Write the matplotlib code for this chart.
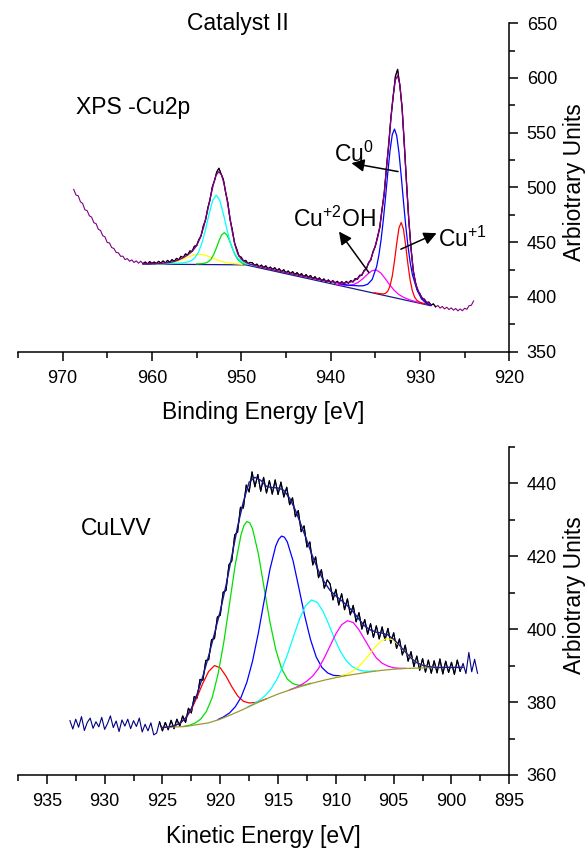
import numpy as np
import matplotlib
matplotlib.use("Agg")
import matplotlib.pyplot as plt
from matplotlib.ticker import MultipleLocator

plt.rcParams['font.family'] = ['Liberation Sans', 'DejaVu Sans']
plt.rcParams['mathtext.fontset'] = 'custom'
plt.rcParams['mathtext.rm'] = 'Liberation Sans'
plt.rcParams['mathtext.it'] = 'Liberation Sans:italic'

# ---------------- XPS Cu2p (binding energy) ----------------
# measured counts, spectrometer step 0.25 eV from 968.75 eV down to 924.0 eV
cu2p_raw_start = 968.75
cu2p_raw_step = -0.25
cu2p_raw = [
    498.2, 493.1, 492.4, 486.9, 485.3, 479.6, 478.8, 474.1, 472.9, 467.8,
    466.9, 461.8, 460.7, 455.9, 454.8, 449.7, 449.3, 445.1, 444.2, 440.6,
    440.3, 437.1, 437.2, 434.1, 435.0, 432.6, 433.8, 431.5, 432.9, 430.8,
    432.6, 430.4, 431.9, 430.2, 432.3, 430.6, 431.9, 430.5, 432.5, 430.9,
    432.9, 431.0, 433.4, 431.6, 434.1, 432.5, 435.2, 434.0, 437.1, 435.9,
    439.3, 438.4, 442.0, 441.6, 446.3, 446.8, 452.4, 455.6, 464.9, 470.1,
    481.2, 488.6, 500.3, 506.0, 514.1, 517.6, 512.2, 507.3, 495.4, 486.1,
    470.4, 461.2, 449.1, 443.6, 437.2, 436.3, 432.7, 433.4, 430.5, 431.5,
    431.2, 428.7, 430.0, 427.5, 429.1, 426.9, 428.4, 425.8, 427.3, 425.1,
    426.7, 424.1, 425.8, 423.0, 424.9, 422.1, 423.7, 421.4, 423.1, 420.5,
    422.2, 419.6, 421.3, 418.4, 420.4, 417.9, 419.6, 416.7, 418.5, 415.9,
    417.4, 414.7, 416.5, 413.8, 415.6, 413.2, 414.9, 412.4, 414.3, 412.1,
    414.0, 411.8, 414.2, 412.5, 415.0, 413.6, 416.8, 416.1, 419.8, 419.7,
    424.3, 425.5, 431.4, 433.7, 441.5, 446.0, 454.9, 463.1, 480.0, 494.3,
    518.4, 538.6, 564.0, 582.7, 601.5, 607.9, 593.0, 573.2, 539.4, 504.1,
    470.0, 444.8, 423.6, 413.4, 405.1, 403.0, 398.1, 398.0, 394.5, 395.3,
    392.4, 393.7, 390.9, 392.2, 389.8, 391.3, 389.1, 390.6, 388.5, 390.0,
    387.9, 389.4, 387.3, 389.0, 387.4, 389.6, 388.7, 392.0, 392.4, 396.3,
]
cu2p_fit_window = (928.25, 961.0)

cu2p_env_E = [961.0, 960.0, 959.0, 958.0, 957.5, 957.0, 956.5, 956.0, 955.5, 955.0,
              954.6, 954.2, 953.8, 953.4, 953.1, 952.8, 952.5, 952.2, 951.9, 951.6,
              951.3, 951.0, 950.7, 950.4, 950.0, 949.5, 949.0, 948.0, 946.0, 944.0,
              942.0, 940.5, 939.5, 939.0, 938.5, 938.0, 937.5, 937.0, 936.5, 936.0,
              935.5, 935.0, 934.75, 934.5, 934.25, 934.0, 933.75, 933.5, 933.25, 933.0,
              932.75, 932.5, 932.25, 932.0, 931.75, 931.5, 931.25, 931.0, 930.75, 930.5,
              930.0, 929.5, 929.0, 928.8]
cu2p_env_I = [430.3, 430.4, 430.6, 431.5, 432.4, 433.9, 435.9, 438.3, 441.6, 446.8,
              453.9, 464.1, 477.8, 493.0, 503.8, 511.6, 514.4, 511.4, 502.5, 489.3,
              473.9, 459.4, 447.6, 439.5, 434.6, 431.7, 429.9, 427.8, 424.0, 420.5,
              417.1, 414.6, 413.4, 412.7, 412.8, 413.2, 414.3, 416.8, 420.6, 426.4,
              434.6, 446.9, 453.7, 464.0, 478.8, 495.2, 517.2, 539.7, 562.8, 583.6,
              598.3, 602.0, 594.2, 572.0, 540.3, 503.0, 471.1, 443.6, 424.7, 412.2,
              401.9, 396.9, 394.2, 393.2]

cu2p_bg_E = [961.0, 949.5, 928.8]
cu2p_bg_I = [430.0, 429.3, 392.0]

# fitted components (peak + background)
cu2p_cyan_E = [960.0, 959.0, 958.0, 957.0, 956.5, 956.0, 955.6, 955.2, 954.8, 954.4,
               954.0, 953.6, 953.2, 952.8, 952.4, 952.0, 951.6, 951.2, 950.8, 950.4,
               950.0, 949.6, 949.2, 948.6]
cu2p_cyan_I = [430.2, 430.3, 430.5, 430.9, 431.2, 431.9, 433.1, 435.7, 440.7, 449.2,
               461.5, 475.8, 488.1, 493.0, 488.1, 475.8, 461.5, 449.2, 440.7, 435.6,
               432.7, 431.3, 430.0, 428.5]

cu2p_green_E = [955.0, 954.3, 954.0, 953.7, 953.4, 953.1, 952.8, 952.5, 952.2, 951.9,
                951.6, 951.3, 951.0, 950.7, 950.4, 950.1, 949.8, 949.5]
cu2p_green_I = [430.1, 430.5, 431.0, 432.2, 434.3, 438.5, 444.4, 451.1, 456.6, 458.7,
                456.6, 451.1, 444.4, 438.5, 434.2, 432.0, 430.4, 429.8]

cu2p_yellow_E = [959.5, 958.9, 958.3, 957.7, 957.1, 956.5, 955.9, 955.3, 954.7, 954.1,
                 953.5, 952.9, 952.3, 951.7, 951.1, 950.5, 949.9]
cu2p_yellow_I = [430.1, 430.2, 430.6, 431.3, 432.6, 434.5, 436.6, 438.3, 439.0, 438.3,
                 436.6, 434.5, 432.6, 431.3, 430.6, 430.2, 429.7]

cu2p_blue_E = [938.85, 937.85, 936.85, 936.35, 935.85, 935.35, 934.85, 934.6, 934.35, 934.1,
               933.85, 933.6, 933.35, 933.1, 932.85, 932.6, 932.35, 932.1, 931.85, 931.6,
               931.35, 931.1, 930.85, 930.35, 929.85, 929.35, 928.85]
cu2p_blue_I = [411.7, 410.6, 410.1, 410.2, 411.6, 415.9, 427.7, 438.1, 452.3, 470.3,
               491.2, 513.4, 533.6, 548.2, 553.3, 547.3, 531.8, 510.7, 487.6, 465.8,
               446.9, 431.8, 420.5, 406.9, 398.5, 394.5, 392.4]

cu2p_red_E = [935.1, 934.6, 934.1, 933.85, 933.6, 933.35, 933.1, 932.85, 932.6, 932.35,
              932.1, 931.85, 931.6, 931.35, 931.1, 930.85, 930.6, 930.35, 930.1, 929.6, 929.1]
cu2p_red_I = [403.8, 403.1, 402.7, 403.3, 405.3, 410.0, 419.0, 432.8, 448.9, 463.0,
              468.0, 462.0, 447.1, 430.1, 415.4, 405.6, 399.9, 396.95, 395.5, 394.1, 393.0]

cu2p_magenta_E = [939.4, 938.9, 938.4, 937.9, 937.4, 936.9, 936.4, 935.9, 935.4, 934.9,
                  934.4, 933.9, 933.4, 932.9, 932.4, 931.9, 931.4, 930.9, 930.4, 929.9]
cu2p_magenta_I = [411.8, 411.1, 410.7, 410.7, 411.4, 413.4, 416.6, 420.5, 423.8, 424.7,
                  422.0, 416.9, 411.2, 406.2, 402.4, 399.9, 398.1, 396.7, 395.6, 394.5]

# peak labels: (text, text position, arrow tail, arrow head)
cu2p_labels = [
    (r'Cu$^{0}$', (939.6, 523.6), (932.45, 514.5), (937.67, 522.2)),
    (r'Cu$^{+2}$OH', (944.2, 464.2), (935.73, 422.4), (939.06, 459.7)),
    (r'Cu$^{+1}$', (928.0, 446.0), (932.14, 443.6), (928.14, 458.2)),
]

# ---------------- CuLVV Auger (kinetic energy) ----------------
# measured counts, 0.25 eV steps from 933.0 eV down to 897.75 eV
culvv_raw_start = 933.0
culvv_raw_step = -0.25
culvv_raw = [
    374.9, 372.6, 375.3, 373.1, 376.0, 372.2, 374.4, 375.6, 372.8, 374.6,
    373.2, 375.8, 372.5, 374.1, 376.2, 373.0, 374.8, 371.9, 375.1, 373.4,
    375.3, 372.7, 374.9, 373.3, 375.6, 371.8, 373.9, 372.1, 374.3, 371.0,
    371.5, 374.6, 372.1, 374.4, 372.4, 375.0, 372.7, 375.3, 373.4, 376.2,
    374.4, 378.3, 377.0, 381.5, 381.1, 386.2, 386.0, 391.4, 391.6, 397.1,
    397.4, 403.3, 403.8, 410.1, 410.6, 417.6, 418.7, 425.8, 426.6, 433.4,
    433.2, 439.5, 437.6, 443.1, 439.0, 442.4, 437.8, 441.6, 437.3, 440.7,
    437.0, 440.9, 436.9, 440.3, 436.2, 438.9, 434.1, 436.0, 430.8, 432.5,
    426.7, 428.3, 422.5, 423.9, 417.6, 419.8, 414.1, 416.3, 411.2, 413.5,
    412.4, 408.0, 410.9, 406.6, 409.7, 405.3, 408.3, 403.9, 406.5, 402.0,
    404.5, 400.0, 402.6, 398.6, 401.5, 397.7, 400.9, 397.3, 400.6, 397.0,
    400.2, 396.1, 399.0, 394.7, 397.3, 392.9, 395.6, 391.2, 393.8, 389.7,
    392.6, 388.7, 391.9, 388.2, 391.5, 387.9, 391.3, 388.0, 391.8, 387.7,
    391.2, 388.1, 390.9, 387.6, 391.5, 388.4, 390.6, 387.8, 393.6, 388.3,
    391.7, 387.9,
]
culvv_fit_window = (899.25, 925.25)

culvv_env_E = [925.0, 924.5, 924.0, 923.5, 923.0, 922.5, 922.0, 921.5, 921.0, 920.5,
               920.0, 919.5, 919.0, 918.5, 918.0, 917.5, 917.0, 916.5, 916.0, 915.5,
               915.0, 914.5, 914.0, 913.5, 913.0, 912.5, 912.0, 911.5, 911.0, 910.5,
               910.0, 909.5, 909.0, 908.5, 908.0, 907.5, 907.0, 906.5, 906.0, 905.5,
               905.0, 904.5, 904.0, 903.5, 903.0, 902.5, 902.0, 901.5, 901.0, 900.0, 899.0]
culvv_env_I = [373.0, 373.15, 373.46, 374.2, 375.6, 378.2, 382.2, 387.1, 392.7, 398.75,
               404.95, 412.0, 420.0, 428.1, 434.9, 440.3, 441.6, 440.8, 439.1, 438.8,
               438.7, 438.05, 435.9, 432.6, 428.5, 424.2, 419.8, 416.0, 412.9, 410.6,
               409.1, 407.8, 406.4, 404.7, 402.7, 400.85, 399.75, 399.15, 398.9, 398.4,
               397.25, 395.55, 393.75, 392.05, 390.8, 390.1, 389.72, 389.56, 389.5, 389.5, 389.5]

culvv_bg_E = [925.0, 923.0, 921.0, 920.0, 919.0, 918.0, 917.0, 916.0, 915.0, 914.0,
              913.0, 912.0, 911.0, 910.0, 909.0, 908.0, 907.0, 906.0, 905.0, 904.0,
              902.0, 900.0, 899.0]
culvv_bg_I = [373.0, 373.3, 374.3, 375.3, 376.6, 378.0, 379.5, 380.9, 382.2, 383.3,
              384.3, 385.2, 386.0, 386.7, 387.3, 387.8, 388.3, 388.7, 389.0, 389.2,
              389.4, 389.5, 389.5]

culvv_red_E = [925.0, 924.5, 924.0, 923.5, 923.0, 922.5, 922.0, 921.5, 921.0, 920.5,
               920.0, 919.5, 919.0, 918.5, 918.0, 917.5, 917.0, 916.5, 916.0]
culvv_red_I = [373.0, 373.15, 373.45, 374.15, 375.5, 377.9, 381.4, 385.2, 388.4, 390.0,
               389.4, 387.1, 384.2, 381.7, 380.2, 379.75, 379.85, 380.3, 380.9]

culvv_green_E = [923.2, 922.7, 922.2, 921.7, 921.2, 920.7, 920.2, 919.7, 919.2, 918.7,
                 918.2, 917.95, 917.7, 917.45, 917.2, 916.7, 916.2, 915.7, 915.2, 914.7,
                 914.2, 913.7, 913.2, 912.7, 912.2]
culvv_green_I = [373.3, 373.6, 374.2, 375.3, 377.4, 381.2, 387.5, 396.25, 406.9, 417.7,
                 425.9, 428.4, 429.5, 429.15, 427.4, 420.6, 411.2, 401.9, 394.4, 389.2,
                 386.3, 385.0, 384.6, 384.65, 385.15]

culvv_blue_E = [920.2, 919.7, 919.2, 918.7, 918.2, 917.7, 917.2, 916.7, 916.2, 915.7,
                915.2, 914.95, 914.7, 914.45, 914.2, 913.7, 913.2, 912.7, 912.2, 911.7,
                911.2, 910.7, 910.2, 909.7, 909.2]
culvv_blue_I = [375.2, 375.95, 377.0, 378.7, 381.3, 385.4, 391.3, 399.0, 407.8, 416.4,
                422.8, 424.6, 425.5, 425.2, 423.9, 418.7, 411.3, 403.7, 397.2, 392.35,
                389.45, 387.95, 387.3, 387.2, 387.3]

culvv_cyan_E = [917.6, 917.1, 916.6, 916.1, 915.6, 915.1, 914.6, 914.1, 913.6, 913.1,
                912.6, 912.1, 911.6, 911.1, 910.6, 910.1, 909.6, 909.1, 908.6, 908.1,
                907.6, 907.1, 906.6]
culvv_cyan_I = [378.7, 379.5, 380.5, 381.8, 383.65, 386.2, 389.6, 393.8, 398.6, 403.1,
                406.5, 408.0, 407.3, 404.8, 401.2, 397.25, 393.85, 391.35, 389.75, 388.85,
                388.5, 388.45, 388.55]

culvv_magenta_E = [914.0, 913.5, 913.0, 912.5, 912.0, 911.5, 911.0, 910.5, 910.0, 909.5,
                   909.0, 908.5, 908.0, 907.5, 907.0, 906.5, 906.0, 905.5, 905.0, 904.5, 904.0]
culvv_magenta_I = [383.35, 383.95, 384.7, 385.75, 387.15, 389.2, 392.1, 395.4, 398.7, 401.2,
                   402.3, 401.8, 399.8, 397.1, 394.4, 392.1, 390.65, 389.85, 389.4, 389.25, 389.25]

culvv_yellow_E = [910.1, 909.6, 909.1, 908.6, 908.1, 907.6, 907.1, 906.6, 906.1, 905.6,
                  905.1, 904.6, 904.1, 903.6, 903.1, 902.6, 902.1, 901.6, 901.1]
culvv_yellow_I = [386.7, 387.1, 387.6, 388.4, 389.5, 391.15, 393.1, 395.1, 396.7, 397.45,
                  397.1, 395.75, 394.05, 392.35, 391.05, 390.2, 389.8, 389.55, 389.5]

LABEL_FS = 16.5
TICK_FS = 13
ANNOT_FS = 16.5


def style_axis(ax, xlim, ylim, xmaj, xmin, ymaj, ymin):
    ax.set_xlim(*xlim)
    ax.set_ylim(*ylim)
    for side in ('top', 'left'):
        ax.spines[side].set_visible(False)
    for side in ('bottom', 'right'):
        ax.spines[side].set_linewidth(1.1)
    ax.yaxis.tick_right()
    ax.yaxis.set_label_position('right')
    ax.xaxis.set_major_locator(MultipleLocator(xmaj))
    ax.xaxis.set_minor_locator(MultipleLocator(xmin))
    ax.yaxis.set_major_locator(MultipleLocator(ymaj))
    ax.yaxis.set_minor_locator(MultipleLocator(ymin))
    ax.tick_params(which='major', direction='out', length=6.8, width=1.1,
                   labelsize=TICK_FS)
    ax.tick_params(which='minor', direction='out', length=4.0, width=1.1)
    ax.tick_params(axis='x', which='major', pad=6.5)
    ax.tick_params(axis='y', which='major', pad=5.8)
    ax.patch.set_alpha(0)


fig = plt.figure(figsize=(5.85, 8.48), dpi=100)
ax1 = fig.add_axes([0.0306, 0.5853, 0.8400, 0.3873])
ax2 = fig.add_axes([0.0306, 0.0861, 0.8400, 0.3871])

# ---- top panel ----
cu2p_E = cu2p_raw_start + cu2p_raw_step * np.arange(len(cu2p_raw))
cu2p_I = np.array(cu2p_raw)
win = (cu2p_E >= cu2p_fit_window[0]) & (cu2p_E <= cu2p_fit_window[1])
ax1.plot(cu2p_E, cu2p_I, color='#800080', lw=0.8)
ax1.plot(cu2p_E[win], cu2p_I[win], color='black', lw=0.8)
ax1.plot(cu2p_bg_E, cu2p_bg_I, color='#1a1a8c', lw=0.9)
ax1.plot(cu2p_yellow_E, cu2p_yellow_I, color='#ffff00', lw=0.9)
ax1.plot(cu2p_green_E, cu2p_green_I, color='#00e000', lw=0.9)
ax1.plot(cu2p_cyan_E, cu2p_cyan_I, color='#00ffff', lw=0.9)
ax1.plot(cu2p_magenta_E, cu2p_magenta_I, color='#ff00ff', lw=0.9)
ax1.plot(cu2p_red_E, cu2p_red_I, color='#ff0000', lw=0.9)
ax1.plot(cu2p_blue_E, cu2p_blue_I, color='#0000ff', lw=0.9)
ax1.plot(cu2p_env_E, cu2p_env_I, color='#800080', lw=1.0)

for text, tpos, tail, head in cu2p_labels:
    ax1.text(tpos[0], tpos[1], text, fontsize=ANNOT_FS, ha='left', va='baseline')
    ax1.annotate('', xy=head, xytext=tail,
                 arrowprops=dict(arrowstyle='-|>', color='black', lw=1.1,
                                 mutation_scale=19, shrinkA=0, shrinkB=0))

style_axis(ax1, (975, 920), (350, 650), 10, 5, 50, 25)
ax1.set_xlabel('Binding Energy [eV]', fontsize=LABEL_FS)
ax1.xaxis.set_label_coords(0.5, -0.205)
ax1.xaxis.label.set_va('baseline')
ax1.set_ylabel('Arbiotrary Units', fontsize=LABEL_FS)
ax1.yaxis.set_label_coords(1.132, 0.517)
ax1.yaxis.label.set_va('center')
ax1.yaxis.label.set_ha('center')
ax1.text(0.448, 0.9796, 'Catalyst II', transform=ax1.transAxes,
         fontsize=LABEL_FS, ha='center', va='baseline')
ax1.text(0.119, 0.7229, 'XPS -Cu2p', transform=ax1.transAxes,
         fontsize=LABEL_FS, ha='left', va='baseline')

# ---- bottom panel ----
culvv_E = culvv_raw_start + culvv_raw_step * np.arange(len(culvv_raw))
culvv_I = np.array(culvv_raw)
win = (culvv_E >= culvv_fit_window[0]) & (culvv_E <= culvv_fit_window[1])
ax2.plot(culvv_E, culvv_I, color='#000080', lw=0.8)
ax2.plot(culvv_E[win], culvv_I[win], color='black', lw=0.8)
ax2.plot(culvv_red_E, culvv_red_I, color='#ff0000', lw=0.9)
ax2.plot(culvv_green_E, culvv_green_I, color='#00e000', lw=0.9)
ax2.plot(culvv_blue_E, culvv_blue_I, color='#0000ff', lw=0.9)
ax2.plot(culvv_cyan_E, culvv_cyan_I, color='#00ffff', lw=0.9)
ax2.plot(culvv_magenta_E, culvv_magenta_I, color='#ff00ff', lw=0.9)
ax2.plot(culvv_yellow_E, culvv_yellow_I, color='#ffff00', lw=0.9)
ax2.plot(culvv_bg_E, culvv_bg_I, color='#9a9a30', lw=0.9)
ax2.plot(culvv_env_E, culvv_env_I, color='#1a1a8c', lw=1.0)

style_axis(ax2, (937.5, 895), (360, 450), 5, 2.5, 20, 10)
ax2.set_xlabel('Kinetic Energy [eV]', fontsize=LABEL_FS)
ax2.xaxis.set_label_coords(0.5, -0.207)
ax2.xaxis.label.set_va('baseline')
ax2.set_ylabel('Arbiotrary Units', fontsize=LABEL_FS)
ax2.yaxis.set_label_coords(1.132, 0.548)
ax2.yaxis.label.set_va('center')
ax2.yaxis.label.set_ha('center')
ax2.text(0.129, 0.731, 'CuLVV', transform=ax2.transAxes,
         fontsize=LABEL_FS, ha='left', va='baseline')

fig.savefig('out.png', dpi=100)
